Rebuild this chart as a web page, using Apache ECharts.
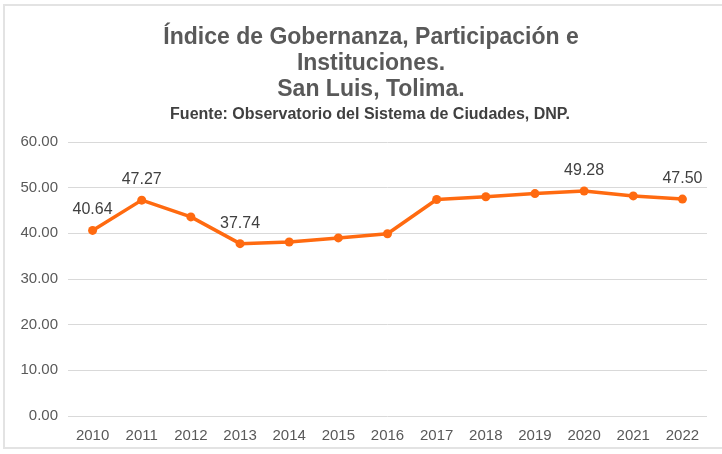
<!DOCTYPE html>
<html>
<head>
<meta charset="utf-8">
<script src="https://cdn.jsdelivr.net/npm/echarts@6/dist/echarts.min.js"></script>
<style>
  html, body { margin: 0; padding: 0; background: #fff; }
  #frame { position: absolute; left: 3px; top: 4px; width: 730px; height: 445px;
    border: 2px solid #e3e3e3; box-sizing: border-box; }
  #chart { position: absolute; left: 0; top: 0; width: 722px; height: 454px; }
</style>
</head>
<body>
<div id="frame"></div>
<div id="chart"></div>
<script>
// datos
const years = ['2010', '2011', '2012', '2013', '2014', '2015', '2016', '2017', '2018', '2019', '2020', '2021', '2022']
const values = [40.64, 47.27, 43.6, 37.74, 38.1, 39.0, 39.9, 47.4, 48.0, 48.7, 49.28, 48.2, 47.50]
// solo algunos puntos llevan etiqueta
const labeledYears = ['2010', '2011', '2013', '2020', '2022']

const chart = echarts.init(document.getElementById('chart'))

const option = {
  animation: false,
  title: [
    {
      text: 'Índice de Gobernanza, Participación e\nInstituciones.\nSan Luis, Tolima.',
      left: 366,
      textAlign: 'center',
      top: 20,
      textStyle: {
        color: '#595959',
        fontFamily: 'Liberation Sans, Arial',
        fontSize: 23,
        fontWeight: 'bold',
        lineHeight: 26,
      },
    },
    {
      text: 'Fuente: Observatorio del Sistema de Ciudades, DNP.',
      left: 365,
      textAlign: 'center',
      top: 102,
      textStyle: {
        color: '#404040',
        fontFamily: 'Liberation Sans, Arial',
        fontSize: 16,
        fontWeight: 'bold',
      },
    },
  ],
  grid: {
    left: 68,
    right: 15,
    top: 142,
    bottom: 38,
  },
  xAxis: {
    type: 'category',
    data: years,
    boundaryGap: true,
    axisLine: { show: false },
    axisTick: { show: false },
    axisLabel: {
      color: '#595959',
      fontFamily: 'Liberation Sans, Arial',
      fontSize: 15,
      margin: 12,
    },
  },
  yAxis: {
    type: 'value',
    min: 0,
    max: 60,
    interval: 10,
    axisLine: { show: false },
    axisTick: { show: false },
    axisLabel: {
      color: '#595959',
      fontFamily: 'Liberation Sans, Arial',
      fontSize: 15,
      margin: 10,
      formatter: (v) => v.toFixed(2),
    },
    splitLine: {
      lineStyle: { color: '#d9d9d9', width: 1 },
    },
  },
  series: [
    {
      type: 'line',
      data: values.map((v, i) => ({
        value: v,
        label: { show: labeledYears.includes(years[i]) },
      })),
      symbol: 'circle',
      symbolSize: 9,
      lineStyle: { color: '#ff6a10', width: 3.5 },
      itemStyle: { color: '#ff6a10' },
      label: {
        position: 'top',
        distance: 8,
        color: '#404040',
        fontFamily: 'Liberation Sans, Arial',
        fontSize: 16,
        formatter: (p) => p.value.toFixed(2),
      },
    },
  ],
}

chart.setOption(option)
</script>
</body>
</html>
